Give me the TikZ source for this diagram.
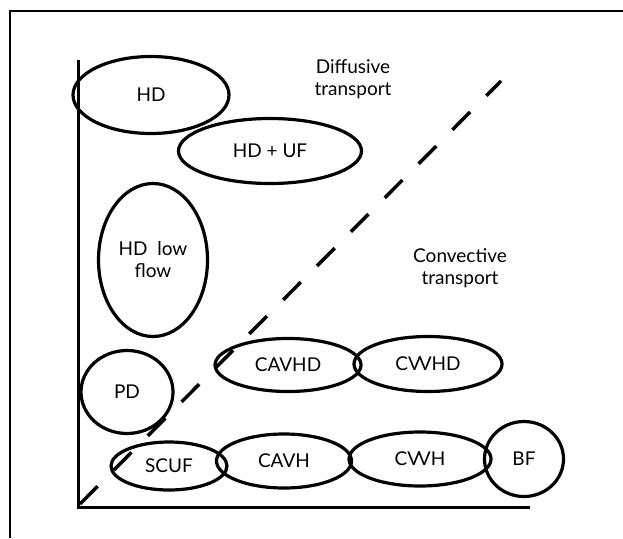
\documentclass[tikz,border=0pt]{standalone}
\usepackage{fontspec}
\setmainfont{Lato}
\usetikzlibrary{shapes.geometric}
\begin{document}
\begin{tikzpicture}[x=1pt,y=-1pt,
  txt/.style={font=\fontsize{19}{22}\selectfont},
  oval/.style={ellipse, draw, line width=3.2pt, inner sep=0pt, txt, align=center},
  lbl/.style={txt, align=center, inner sep=0pt},
  frameline/.style={line width=2pt},
  axisline/.style={line width=3pt},
  divider/.style={line width=3.5pt, dash pattern=on 25pt off 23pt}]
\useasboundingbox (0,0) rectangle (623,538);
% frame
\coordinate (fbl) at (10,538);
\coordinate (ftl) at (10,11);
\coordinate (ftr) at (623,11);
\draw[frameline] (fbl) -- (ftl) -- (ftr);
% axes
\coordinate (ytop) at (78,60);
\coordinate (orig) at (78,507);
\coordinate (xend) at (530,507);
\draw[axisline] (ytop) -- (orig) -- (xend);
% divider
\coordinate (d0) at (80,504);
\coordinate (d1) at (501,81);
\draw[divider] (d0) -- (d1);
% ellipses
\node[oval, minimum width=156pt, minimum height=77pt] (hd) at (151,95) {HD};
\node[oval, minimum width=183pt, minimum height=65pt] (hduf) at (270,151) {HD + UF};
\node[oval, minimum width=109pt, minimum height=153pt] (hdlow) at (153,260) {HD\ \ low\\flow};
\node[oval, minimum width=92pt, minimum height=83pt] (pd) at (127,392) {PD};
\node[oval, minimum width=146pt, minimum height=53pt] (cavhd) at (288,365) {CAVHD};
\node[oval, minimum width=148pt, minimum height=55pt] (cvvhd) at (428,364) {CV\kern-0.12em VHD};
\node[oval, minimum width=116pt, minimum height=48pt] (scuf) at (169,466) {SCUF};
\node[oval, minimum width=135pt, minimum height=54pt] (cavh) at (284,461) {CAVH};
\node[oval, minimum width=142pt, minimum height=54pt] (cvvh) at (420,459) {CV\kern-0.12em VH};
\node[oval, minimum width=79pt, minimum height=75pt] (bf) at (524,459) {BF};
% labels
\node[lbl] (diff) at (353,79) {Diffusive\\transport};
\node[lbl] (conv) at (460,268) {Convective\\transport};
\end{tikzpicture}
\end{document}
